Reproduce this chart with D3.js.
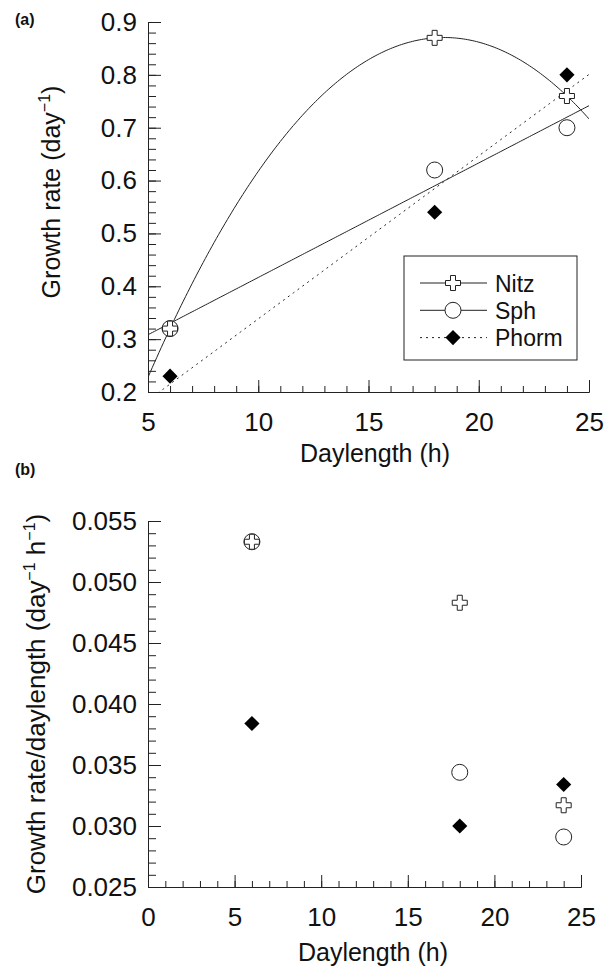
<!DOCTYPE html>
<html>
<head>
<meta charset="utf-8">
<script src="https://cdn.jsdelivr.net/npm/d3@7"></script>
<style>
  body { margin: 0; background: #fff; }
  svg text { font-family: "Liberation Sans", Arial, Helvetica, sans-serif; fill: #111; }
</style>
</head>
<body>
<div id="root"></div>
<script>
// values
const days = [6, 18, 24];
const rateNitz = [0.32, 0.87, 0.76];
const rateSph = [0.32, 0.62, 0.70];
const ratePhorm = [0.23, 0.54, 0.80];
const perHourNitz = [0.0533, 0.0483, 0.0317];
const perHourSph = [0.0533, 0.0344, 0.0291];
const perHourPhorm = [0.0384, 0.0300, 0.0334];

const seriesNames = ["Nitz", "Sph", "Phorm"];
const aXTicks = [5, 10, 15, 20, 25];
const aYTicks = [0.2, 0.3, 0.4, 0.5, 0.6, 0.7, 0.8, 0.9];
const bXTicks = [0, 5, 10, 15, 20, 25];
const bYTicks = [0.025, 0.030, 0.035, 0.040, 0.045, 0.050, 0.055];

const w = 616;
const h = 969;

const svg = d3.select("#root")
    .append("svg")
    .attr("width", w)
    .attr("height", h);

const ink = "#222";

// least squares polynomial fit (degree 1 or 2), returns f(x)
const polyFit = (xs, ys, deg) => {
    const n = deg + 1;
    let A = [];
    for (let r = 0; r < n; r++) {
        let row = [];
        for (let c = 0; c < n; c++) row.push(d3.sum(xs, x => Math.pow(x, r + c)));
        row.push(d3.sum(xs, (x, i) => ys[i] * Math.pow(x, r)));
        A.push(row);
    }
    // gauss elimination
    for (let i = 0; i < n; i++) {
        for (let k = i + 1; k < n; k++) {
            let f = A[k][i] / A[i][i];
            for (let j = i; j <= n; j++) A[k][j] -= f * A[i][j];
        }
    }
    let coef = new Array(n).fill(0);
    for (let i = n - 1; i >= 0; i--) {
        let s = A[i][n];
        for (let j = i + 1; j < n; j++) s -= A[i][j] * coef[j];
        coef[i] = s / A[i][i];
    }
    return x => d3.sum(coef, (c, i) => c * Math.pow(x, i));
};

const marker = (sel, kind) => {
    if (kind === "Nitz") {
        sel.append("path")
            .attr("d", d3.symbol(d3.symbolCross, 125)())
            .attr("fill", "#fff").attr("stroke", ink).attr("stroke-width", 1);
    } else if (kind === "Sph") {
        sel.append("circle")
            .attr("r", 8)
            .attr("fill", "#fff").attr("stroke", ink).attr("stroke-width", 1);
    } else {
        sel.append("path")
            .attr("d", d3.symbol(d3.symbolSquare, 115)())
            .attr("transform", "rotate(45)")
            .attr("fill", "#000");
    }
};

const drawAxes = (x, y, xTicks, yTicks, xMinorStep, yMinorStep, yFmt, fs) => {
    const [x0, x1] = x.domain();
    const [y0, y1] = y.domain();
    const xMinor = d3.range(x0, x1 + xMinorStep / 2, xMinorStep);
    const yMinor = d3.range(0, Math.round((y1 - y0) / yMinorStep) + 1).map(i => y0 + i * yMinorStep);

    const gx = svg.append("g").attr("transform", `translate(0,${y.range()[0]})`);
    gx.call(d3.axisBottom(x).tickValues(xMinor).tickSizeInner(-6).tickSizeOuter(0).tickFormat(""));
    const gx2 = svg.append("g").attr("transform", `translate(0,${y.range()[0]})`);
    gx2.call(d3.axisBottom(x).tickValues(xTicks).tickSizeInner(-12).tickSizeOuter(0).tickPadding(21).tickFormat(d3.format("d")));

    const gy = svg.append("g").attr("transform", `translate(${x.range()[0]},0)`);
    gy.call(d3.axisLeft(y).tickValues(yMinor).tickSizeInner(-8).tickSizeOuter(0).tickFormat(""));
    const gy2 = svg.append("g").attr("transform", `translate(${x.range()[0]},0)`);
    gy2.call(d3.axisLeft(y).tickValues(yTicks).tickSizeInner(-13).tickSizeOuter(0).tickPadding(11).tickFormat(yFmt));

    [gx, gx2, gy, gy2].forEach(g => {
        g.selectAll("path.domain").attr("stroke", ink);
        g.selectAll(".tick line").attr("stroke", ink);
        g.selectAll("text").attr("font-size", fs).attr("fill", "#111")
            .attr("font-family", "'Liberation Sans', Arial, sans-serif");
    });
};

// ---------- panel (a)
const xa = d3.scaleLinear().domain([5, 25]).range([148, 589]);
const ya = d3.scaleLinear().domain([0.2, 0.9]).range([392, 22]);

svg.append("text").attr("x", 15).attr("y", 25)
    .attr("font-size", 16).attr("font-weight", "bold").text("(a)");

drawAxes(xa, ya, aXTicks, aYTicks, 1, 0.02, d3.format(".1f"), 26);

svg.append("clipPath").attr("id", "clipA")
    .append("rect")
    .attr("x", xa(5)).attr("y", ya(0.9))
    .attr("width", xa(25) - xa(5)).attr("height", ya(0.2) - ya(0.9));

const aSeries = [
    { name: "Nitz", vals: rateNitz, deg: 2, dash: null },
    { name: "Sph", vals: rateSph, deg: 1, dash: null },
    { name: "Phorm", vals: ratePhorm, deg: 1, dash: "2,4" }
];

const fitX = d3.range(5, 25.001, 0.1);
const lineGen = d3.line().x(d => xa(d[0])).y(d => ya(d[1]));
const fits = svg.append("g").attr("clip-path", "url(#clipA)");
aSeries.forEach(s => {
    const f = polyFit(days, s.vals, s.deg);
    fits.append("path")
        .attr("d", lineGen(fitX.map(x => [x, f(x)])))
        .attr("fill", "none")
        .attr("stroke", ink)
        .attr("stroke-width", 1)
        .attr("stroke-dasharray", s.dash);
});

// draw order: circles, crosses, diamonds
["Sph", "Nitz", "Phorm"].forEach(name => {
    const s = aSeries.find(d => d.name === name);
    s.vals.forEach((v, i) => {
        const g = svg.append("g").attr("transform", `translate(${xa(days[i])},${ya(v)})`);
        marker(g, name);
    });
});

// legend
const legend = svg.append("g");
legend.append("rect")
    .attr("x", 404).attr("y", 256).attr("width", 173).attr("height", 104)
    .attr("fill", "#fff").attr("stroke", ink).attr("stroke-width", 1);
seriesNames.forEach((name, i) => {
    const ly = 283 + i * 27.3;
    const s = aSeries[i];
    legend.append("line")
        .attr("x1", 420).attr("x2", 487).attr("y1", ly).attr("y2", ly)
        .attr("stroke", ink).attr("stroke-width", 1)
        .attr("stroke-dasharray", s.dash);
    const g = legend.append("g").attr("transform", `translate(453,${ly})`);
    marker(g, name);
    legend.append("text")
        .attr("x", 495).attr("y", ly + 8.5)
        .attr("font-size", 23)
        .text(name);
});

// axis titles (a)
svg.append("text")
    .attr("x", 375).attr("y", 462)
    .attr("text-anchor", "middle")
    .attr("font-size", 25)
    .text("Daylength (h)");

const ta = svg.append("text")
    .attr("transform", "translate(60,192) rotate(-90)")
    .attr("text-anchor", "middle")
    .attr("font-size", 25);
ta.append("tspan").text("Growth rate (day");
ta.append("tspan").attr("font-size", 16).attr("dy", -10).text("\u22121");
ta.append("tspan").attr("dy", 10).text(")");

// ---------- panel (b)
const xb = d3.scaleLinear().domain([0, 25]).range([148, 581]);
const yb = d3.scaleLinear().domain([0.025, 0.055]).range([887, 521]);

svg.append("text").attr("x", 15).attr("y", 475)
    .attr("font-size", 16).attr("font-weight", "bold").text("(b)");

drawAxes(xb, yb, bXTicks, bYTicks, 1, 0.001, d3.format(".3f"), 26);

const bSeries = [
    { name: "Sph", vals: perHourSph },
    { name: "Nitz", vals: perHourNitz },
    { name: "Phorm", vals: perHourPhorm }
];
bSeries.forEach(s => {
    s.vals.forEach((v, i) => {
        const g = svg.append("g").attr("transform", `translate(${xb(days[i])},${yb(v)})`);
        marker(g, s.name);
    });
});

svg.append("text")
    .attr("x", 373).attr("y", 961)
    .attr("text-anchor", "middle")
    .attr("font-size", 25)
    .text("Daylength (h)");

const tb = svg.append("text")
    .attr("transform", "translate(45,704) rotate(-90)")
    .attr("text-anchor", "middle")
    .attr("font-size", 26);
tb.append("tspan").text("Growth rate/daylength (day");
tb.append("tspan").attr("font-size", 16).attr("dy", -10).text("\u22121");
tb.append("tspan").attr("dy", 10).text(" h");
tb.append("tspan").attr("font-size", 16).attr("dy", -10).text("\u22121");
tb.append("tspan").attr("dy", 10).text(")");
</script>
</body>
</html>
